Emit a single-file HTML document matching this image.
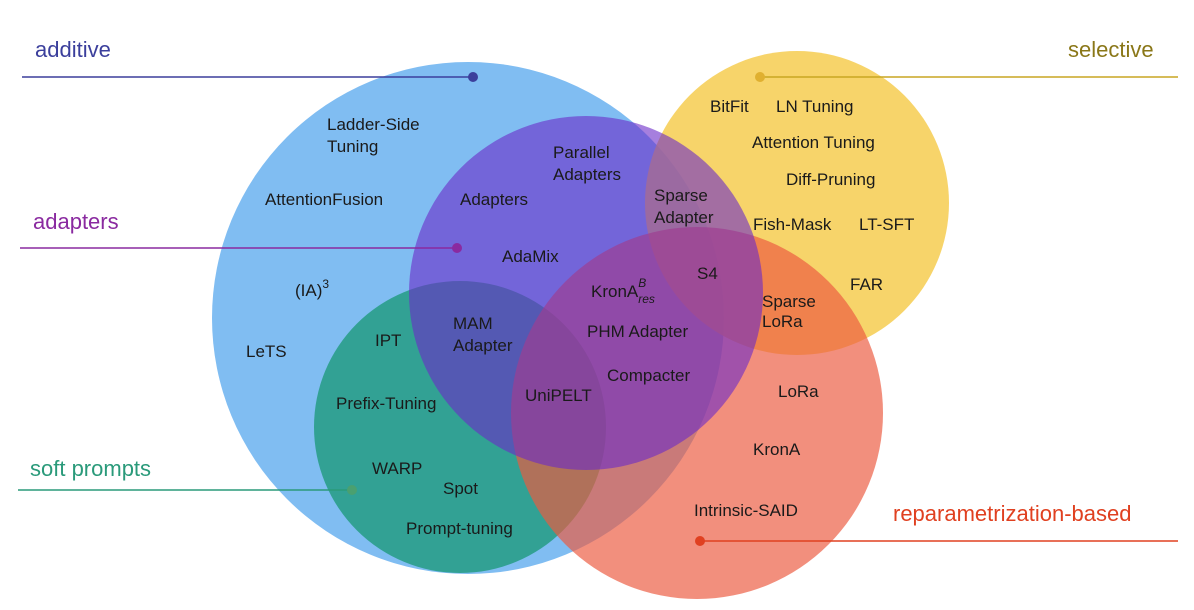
<!DOCTYPE html>
<html><head><meta charset="utf-8"><style>
body{margin:0;background:#fff;}
svg{display:block;font-family:"Liberation Sans",Arial,sans-serif;}
.t{font-size:17px;fill:#1a1a1a;}
</style></head><body>
<svg width="1194" height="610" viewBox="0 0 1194 610">
<g>
<circle cx="468" cy="318" r="256" fill="#80bdf2"/>
<circle cx="797" cy="203" r="152" fill="#f6cc50" fill-opacity="0.85"/>
<circle cx="460" cy="427" r="146" fill="#1e9a7c" fill-opacity="0.8"/>
<circle cx="697" cy="413" r="186" fill="#ec5a40" fill-opacity="0.68"/>
<circle cx="586" cy="293" r="177" fill="#6a2ac8" fill-opacity="0.6"/>
</g>
<g>
<line x1="22" y1="77" x2="473" y2="77" stroke="#3b3f9c" stroke-width="1.5"/><circle cx="473" cy="77" r="5" fill="#3b3f9c"/>
<text x="35" y="57" font-size="22" fill="#3b3f9c">additive</text>
<line x1="760" y1="77" x2="1178" y2="77" stroke="#c9a622" stroke-width="1.5"/><circle cx="760" cy="77" r="5" fill="#e0b030"/>
<text x="1068" y="57" font-size="22" fill="#8a7718">selective</text>
<line x1="20" y1="248" x2="457" y2="248" stroke="#8a2aa0" stroke-width="1.5"/><circle cx="457" cy="248" r="5" fill="#8a2aa0"/>
<text x="33" y="229" font-size="22" fill="#8a2aa0">adapters</text>
<line x1="18" y1="490" x2="352" y2="490" stroke="#2a9a7a" stroke-width="1.5"/><circle cx="352" cy="490" r="5" fill="#4aa070"/>
<text x="30" y="476" font-size="22" fill="#2a9a7a">soft prompts</text>
<line x1="700" y1="541" x2="1178" y2="541" stroke="#e04020" stroke-width="1.5"/><circle cx="700" cy="541" r="5" fill="#e04020"/>
<text x="893" y="521" font-size="22" fill="#e04020">reparametrization-based</text>
</g>
<g>
<text class="t" x="327" y="130">Ladder-Side</text><text class="t" x="327" y="152">Tuning</text>
<text class="t" x="265" y="205">AttentionFusion</text>
<text class="t" x="295" y="296">(IA)<tspan dy="-8" font-size="12">3</tspan></text>
<text class="t" x="246" y="357">LeTS</text>
<text class="t" x="553" y="158">Parallel</text><text class="t" x="553" y="180">Adapters</text>
<text class="t" x="460" y="205">Adapters</text>
<text class="t" x="502" y="262">AdaMix</text>
<text class="t" x="654" y="201">Sparse</text><text class="t" x="654" y="223">Adapter</text>
<text class="t" x="697" y="279">S4</text>
<text class="t" x="591" y="297">KronA<tspan dy="-10" font-size="12" font-style="italic">B</tspan><tspan dx="-8" dy="16" font-size="12" font-style="italic">res</tspan></text>
<text class="t" x="587" y="337">PHM Adapter</text>
<text class="t" x="607" y="381">Compacter</text>
<text class="t" x="453" y="329">MAM</text><text class="t" x="453" y="351">Adapter</text>
<text class="t" x="375" y="346">IPT</text>
<text class="t" x="336" y="409">Prefix-Tuning</text>
<text class="t" x="525" y="401">UniPELT</text>
<text class="t" x="372" y="474">WARP</text>
<text class="t" x="443" y="494">Spot</text>
<text class="t" x="406" y="534">Prompt-tuning</text>
<text class="t" x="710" y="112">BitFit</text>
<text class="t" x="776" y="112">LN Tuning</text>
<text class="t" x="752" y="148">Attention Tuning</text>
<text class="t" x="786" y="185">Diff-Pruning</text>
<text class="t" x="753" y="230">Fish-Mask</text>
<text class="t" x="859" y="230">LT-SFT</text>
<text class="t" x="850" y="290">FAR</text>
<text class="t" x="762" y="307" font-size="14">Sparse</text><text class="t" x="762" y="327" font-size="14">LoRa</text>
<text class="t" x="778" y="397">LoRa</text>
<text class="t" x="753" y="455">KronA</text>
<text class="t" x="694" y="516">Intrinsic-SAID</text>
</g>
</svg>
</body></html>
